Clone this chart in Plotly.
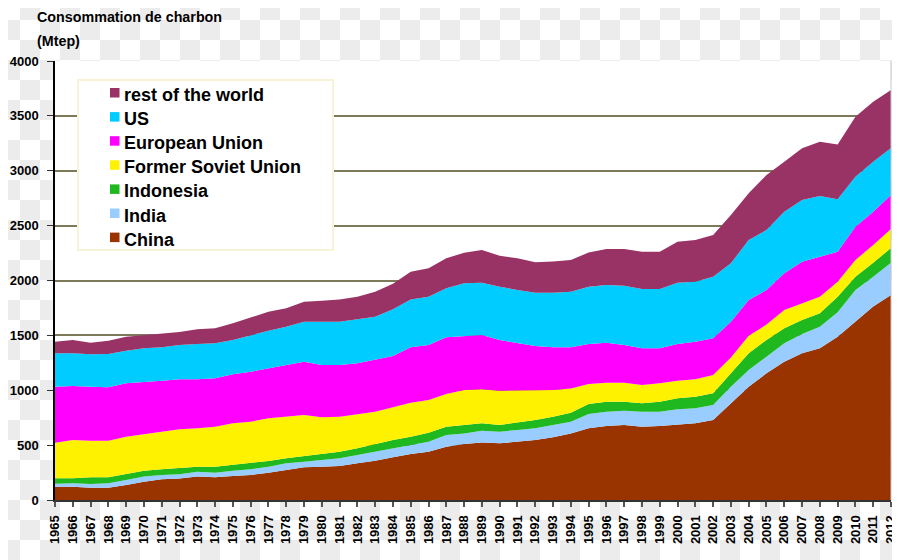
import plotly.graph_objects as go

years = [1965, 1966, 1967, 1968, 1969, 1970, 1971, 1972, 1973, 1974,
         1975, 1976, 1977, 1978, 1979, 1980, 1981, 1982, 1983, 1984,
         1985, 1986, 1987, 1988, 1989, 1990, 1991, 1992, 1993, 1994,
         1995, 1996, 1997, 1998, 1999, 2000, 2001, 2002, 2003, 2004,
         2005, 2006, 2007, 2008, 2009, 2010, 2011, 2012]
year_labels = [str(y) for y in years]

china = [121, 121, 112, 112, 137, 167, 189, 197, 213, 207,
         219, 228, 249, 273, 298, 304, 310, 334, 358, 389,
         419, 440, 486, 510, 525, 516, 531, 547, 571, 607,
         653, 674, 683, 668, 674, 689, 699, 729, 881, 1032,
         1154, 1260, 1336, 1382, 1488, 1625, 1762, 1868]
india = [27, 31, 34, 40, 45, 46, 39, 37, 45, 42,
         48, 52, 55, 61, 51, 60, 70, 76, 82, 82,
         82, 91, 106, 97, 107, 107, 107, 106, 112, 107,
         130, 131, 131, 137, 131, 137, 136, 137, 151, 153,
         152, 168, 176, 197, 222, 288, 273, 294]
indonesia = [50, 46, 61, 55, 55, 54, 52, 55, 46, 55,
             52, 54, 51, 46, 52, 61, 60, 61, 70, 76,
             76, 82, 76, 76, 67, 60, 67, 76, 76, 82,
             92, 91, 82, 76, 91, 100, 106, 106, 122, 152,
             152, 136, 128, 122, 142, 122, 127, 134]
former_soviet_union = [324, 349, 334, 334, 340, 334, 342, 355, 349, 364,
                       380, 380, 389, 379, 373, 328, 319, 310, 295, 298,
                       310, 298, 298, 319, 310, 313, 291, 267, 243, 221,
                       182, 173, 173, 167, 167, 161, 159, 167, 145, 160,
                       140, 167, 154, 151, 137, 152, 161, 173]
european_union = [511, 492, 492, 486, 486, 477, 465, 456, 447, 441,
                  446, 455, 456, 471, 486, 477, 471, 464, 471, 467,
                  504, 501, 516, 492, 494, 462, 432, 407, 389, 374,
                  364, 364, 343, 334, 319, 334, 343, 334, 326, 325,
                  315, 334, 377, 365, 273, 303, 304, 310]
us = [303, 297, 294, 303, 298, 304, 304, 312, 321, 319,
      313, 334, 343, 349, 365, 395, 395, 401, 394, 425,
      437, 440, 447, 480, 477, 486, 485, 486, 498, 507,
      523, 526, 541, 540, 540, 559, 546, 562, 532, 547,
      547, 562, 562, 553, 478, 456, 456, 428]
rest_of_world = [107, 122, 106, 122, 127, 121, 121, 118, 134, 136,
                 152, 162, 173, 168, 182, 191, 203, 206, 228, 233,
                 252, 259, 273, 279, 298, 281, 289, 277, 283, 289,
                 311, 328, 334, 340, 340, 374, 380, 380, 440, 425,
                 501, 456, 471, 495, 500, 547, 546, 529]

series_names = ["China", "India", "Indonesia", "Former Soviet Union",
                "European Union", "US", "rest of the world"]
series_values = [china, india, indonesia, former_soviet_union,
                 european_union, us, rest_of_world]
series_colors = ["#993300", "#99CCFF", "#1FB81F", "#FFF200",
                 "#FF00FF", "#00CCFF", "#993366"]

y_ticks = [0, 500, 1000, 1500, 2000, 2500, 3000, 3500, 4000]

# The page places the figure 8px from the top-left corner of the window,
# so the figure is 892x552 and the screen plot area is x 55..891, y 61..500.
W, H = 892, 552
ML, MR, MT, MB = 47, 9, 53, 60
PW, PH = W - ML - MR, H - MT - MB
SX0, SY_BOTTOM = 55, 500   # screen coords of plot-area left / bottom


def px(sx):
    return (sx - SX0) / PW


def py(sy):
    return (SY_BOTTOM - sy) / PH


fig = go.Figure()
for name, vals, col in zip(series_names, series_values, series_colors):
    fig.add_trace(go.Scatter(
        x=years, y=vals, name=name, stackgroup="one", mode="lines",
        line=dict(width=0, color=col), fillcolor=col, showlegend=False,
    ))

shapes = []
# transparent-background checkerboard (screen-aligned 20px squares)
for row in range(28):
    for col in range(45):
        if (row + col) % 2 == 1:
            shapes.append(dict(type="rect", xref="paper", yref="paper",
                               x0=px(col * 20), x1=px(col * 20 + 20),
                               y0=py(row * 20 + 20), y1=py(row * 20),
                               fillcolor="#ececec", line=dict(width=0),
                               layer="below"))
# white plot area
shapes.append(dict(type="rect", xref="paper", yref="paper", x0=0, x1=1,
                   y0=0, y1=1, fillcolor="white", line=dict(width=0),
                   layer="below"))
# right border
shapes.append(dict(type="line", xref="paper", yref="paper", x0=1, x1=1,
                   y0=0, y1=1, line=dict(color="#c8c8c8", width=1),
                   layer="above"))
# legend box
shapes.append(dict(type="rect", xref="paper", yref="paper",
                   x0=px(78), x1=px(333), y0=py(250), y1=py(80),
                   fillcolor="white", line=dict(color="#f6f3d6", width=2),
                   layer="above"))

annotations = []
legend_names = list(reversed(series_names))
legend_colors = list(reversed(series_colors))
for i, (nm, col) in enumerate(zip(legend_names, legend_colors)):
    c = 96 + 24.1 * i
    shapes.append(dict(type="rect", xref="paper", yref="paper",
                       x0=px(110), x1=px(119.5), y0=py(c + 1.5), y1=py(c - 8),
                       fillcolor=col, line=dict(width=0), layer="above"))
    annotations.append(dict(text=nm, xref="paper", yref="paper",
                            x=px(122), y=py(c - 1), xanchor="left",
                            yanchor="middle", showarrow=False,
                            font=dict(family="Liberation Sans, Arial, sans-serif",
                                      size=18, color="black", weight="bold")))

title_font = dict(family="Liberation Sans, Arial, sans-serif",
                  size=14.3, color="black", weight="bold")
annotations.append(dict(text="Consommation de charbon", xref="paper", yref="paper",
                        x=px(35), y=py(17), xanchor="left", yanchor="middle",
                        showarrow=False, font=title_font))
annotations.append(dict(text="(Mtep)", xref="paper", yref="paper",
                        x=px(35), y=py(41), xanchor="left", yanchor="middle",
                        showarrow=False, font=title_font))

tick_font = dict(family="Liberation Sans, Arial, sans-serif", size=13,
                 color="black", weight="bold")

fig.update_layout(
    width=W, height=H, autosize=False,
    margin=dict(l=ML, r=MR, t=MT, b=MB, pad=0, autoexpand=False),
    paper_bgcolor="white", plot_bgcolor="white",
    shapes=shapes, annotations=annotations, showlegend=False,
    xaxis=dict(range=[1965, 2012], tickmode="array", tickvals=years,
               ticktext=year_labels, tickangle=-90, tickfont=tick_font,
               ticks="outside", ticklen=5, tickcolor="#555555", tickwidth=1.5,
               showline=True, linecolor="#333333", linewidth=2,
               showgrid=False, zeroline=False, ticklabelstandoff=3,
               automargin=False),
    yaxis=dict(range=[0, 4000], tickmode="array", tickvals=y_ticks,
               tickfont=tick_font, ticks="outside", ticklen=6,
               tickcolor="#333333", showline=True, linecolor="black",
               linewidth=1.5, showgrid=True, gridcolor="#7d7a5a",
               gridwidth=1.5, zeroline=False, ticklabelstandoff=6,
               automargin=False),
)

fig.write_html("out.html")
